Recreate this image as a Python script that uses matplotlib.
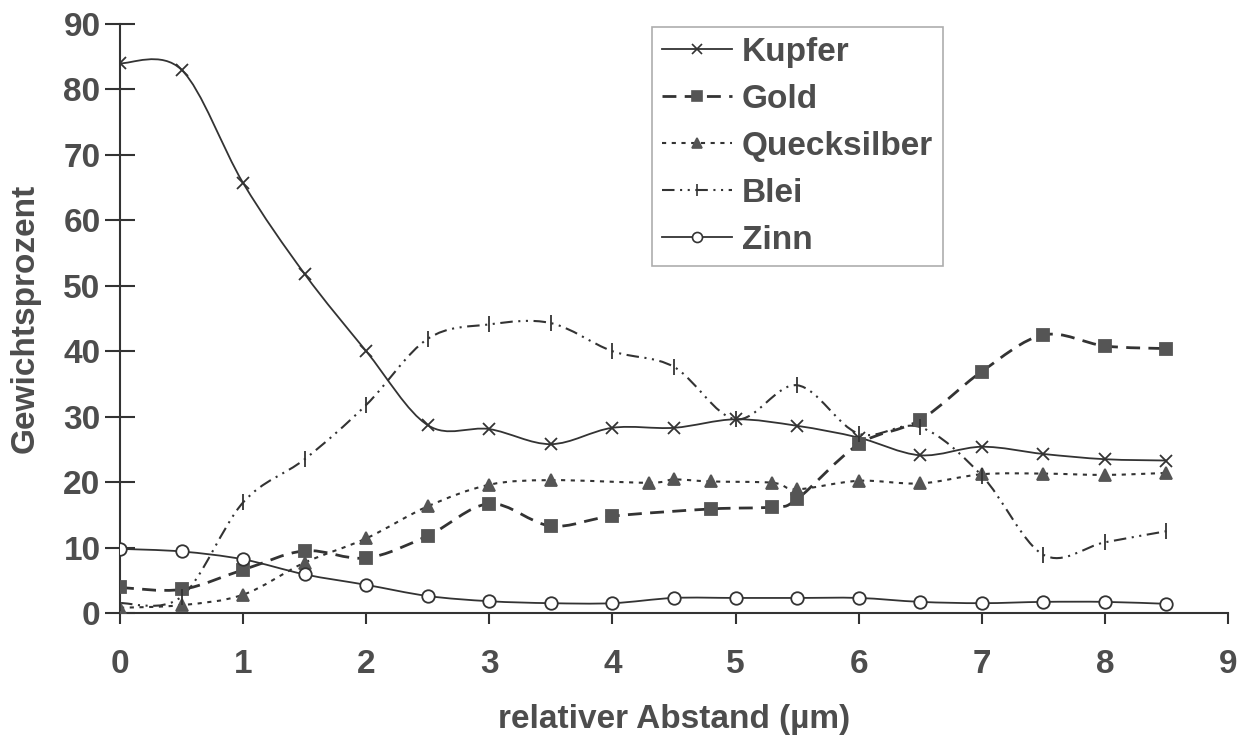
import numpy as np
import matplotlib
matplotlib.use("Agg")
import matplotlib.pyplot as plt
from matplotlib.path import Path
from matplotlib.patches import PathPatch
from matplotlib.lines import Line2D

plt.rcParams['font.family'] = ['Liberation Sans', 'DejaVu Sans']
plt.rcParams['font.weight'] = 'bold'
plt.rcParams['lines.scale_dashes'] = False

# values
x_std = [0, 0.5, 1, 1.5, 2, 2.5, 3, 3.5, 4, 4.5, 5, 5.5, 6, 6.5, 7, 7.5, 8, 8.5]

kupfer = [84, 83, 65.7, 51.8, 40, 28.7, 28.1, 25.8, 28.3, 28.3, 29.6, 28.6,
          26.8, 24.1, 25.4, 24.3, 23.5, 23.3]

x_gold = [0, 0.5, 1, 1.5, 2, 2.5, 3, 3.5, 4, 4.8, 5.3, 5.5, 6, 6.5, 7, 7.5, 8, 8.5]
gold = [3.9, 3.6, 6.6, 9.5, 8.4, 11.8, 16.7, 13.3, 14.8, 15.9, 16.2, 17.4,
        25.8, 29.5, 36.9, 42.5, 40.8, 40.4]

x_hg = [0, 0.5, 1, 1.5, 2, 2.5, 3, 3.5, 4.3, 4.5, 4.8, 5.3, 5.5, 6, 6.5, 7, 7.5, 8, 8.5]
quecksilber = [0.8, 1.2, 2.8, 7.7, 11.4, 16.3, 19.6, 20.3, 19.9, 20.4, 20.1, 19.9,
               18.9, 20.2, 19.8, 21.2, 21.3, 21.1, 21.4]

blei = [1.5, 2.5, 16.9, 23.5, 31.8, 41.9, 44.1, 44.3, 40.0, 37.6, 29.6, 34.8,
        27.4, 28.4, 21.0, 8.9, 10.8, 12.5]

zinn = [9.8, 9.4, 8.2, 5.9, 4.3, 2.6, 1.8, 1.5, 1.5, 2.3, 2.3, 2.3, 2.3, 1.7,
        1.5, 1.7, 1.7, 1.4]

x_ticks = list(range(0, 10))
y_ticks = list(range(0, 100, 10))

txt = '#4d4d4d'
ink = '#333333'


def smooth_path(xs, ys):
    # bezier path through the points, like the smoothed office chart lines
    p = np.column_stack([xs, ys]).astype(float)
    n = len(p)
    verts = [p[0]]
    codes = [Path.MOVETO]
    for i in range(n - 1):
        p0 = p[i - 1] if i > 0 else p[i]
        p3 = p[i + 2] if i + 2 < n else p[i + 1]
        c1 = p[i] + (p[i + 1] - p0) / 6.0
        c2 = p[i + 1] - (p3 - p[i]) / 6.0
        verts += [c1, c2, p[i + 1]]
        codes += [Path.CURVE4] * 3
    return Path(verts, codes)


series = [
    # label, x, y, linestyle, lw, marker, ms, mfc, mec
    ('Kupfer', x_std, kupfer, '-', 1.3, 'x', 9, ink, ink),
    ('Gold', x_gold, gold, (0, (10, 6)), 2.0, 's', 9, '#555555', '#555555'),
    ('Quecksilber', x_hg, quecksilber, (0, (3, 4)), 1.5, '^', 9, '#555555', '#555555'),
    ('Blei', x_std, blei, (0, (9, 4, 1.5, 4, 1.5, 4)), 1.5, '|', 11, ink, ink),
    ('Zinn', x_std, zinn, '-', 1.3, 'o', 9, 'white', ink),
]

fig = plt.figure(figsize=(12.43, 7.38), dpi=100)
ax = fig.add_axes([120 / 1243, 125 / 738, 1108 / 1243, 589 / 738])

handles = []
for label, xs, ys, ls, lw, mk, ms, mfc, mec in series:
    patch = PathPatch(smooth_path(xs, ys), fill=False, edgecolor=ink,
                      linewidth=lw, linestyle=ls, zorder=2)
    ax.add_patch(patch)
    ax.plot(xs, ys, linestyle='none', marker=mk, markersize=ms,
            markerfacecolor=mfc, markeredgecolor=mec, markeredgewidth=1.3,
            zorder=3)
    handles.append(Line2D([], [], color=ink, linestyle=ls, linewidth=lw,
                          marker=mk, markersize=ms * 0.8, markerfacecolor=mfc,
                          markeredgecolor=mec, markeredgewidth=1.2, label=label))

ax.set_xlim(0, 9)
ax.set_ylim(0, 90)
ax.set_xticks(x_ticks)
ax.set_yticks(y_ticks)
ax.spines['top'].set_visible(False)
ax.spines['right'].set_visible(False)
for s in ('left', 'bottom'):
    ax.spines[s].set_color(ink)
    ax.spines[s].set_linewidth(1.5)
ax.tick_params(axis='x', direction='out', length=8, width=1.5, color=ink,
               labelsize=24, labelcolor=txt, pad=18)
ax.tick_params(axis='y', direction='inout', length=22, width=1.5, color=ink,
               labelsize=24, labelcolor=txt, pad=3)
for lab in ax.get_xticklabels() + ax.get_yticklabels():
    lab.set_fontweight('bold')
for sp in ax.spines.values():
    sp.set_clip_on(False)

ax.set_xlabel('relativer Abstand (µm)', fontsize=24, fontweight='bold',
              color=txt, labelpad=17)
ax.set_ylabel('Gewichtsprozent', fontsize=24, fontweight='bold', color=txt,
              labelpad=16)

leg = fig.legend(handles=handles, loc='upper left',
                 bbox_to_anchor=(652 / 1243, 1 - 27 / 738),
                 frameon=True, fancybox=False, fontsize=24,
                 handlelength=2.1, handletextpad=0.3, labelspacing=0.48,
                 borderpad=0.3, borderaxespad=0)
leg.get_frame().set_edgecolor('#999999')
leg.get_frame().set_linewidth(1.2)
for t in leg.get_texts():
    t.set_color(txt)
    t.set_fontweight('bold')

fig.savefig('out.png', dpi=100)
